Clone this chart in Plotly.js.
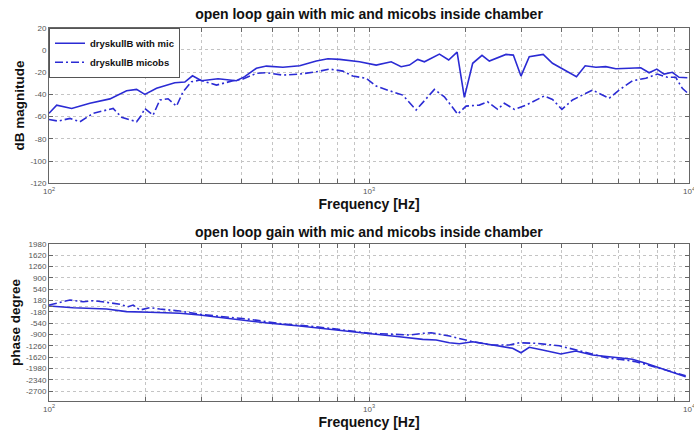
<!DOCTYPE html>
<html>
<head>
<meta charset="utf-8">
<script src="https://cdn.plot.ly/plotly-3.0.1.min.js"></script>
<style>
  html, body { margin: 0; padding: 0; background: #fff; }
  #chart { width: 694px; height: 434px; }
</style>
</head>
<body>
<div id="chart"></div>
<script>
// Open loop gain measurements (magnitude in dB, phase in degrees) vs frequency in Hz
const magMicFreq = [100,105.7,117.7,134.2,155,174.8,187.8,199.3,216.8,247.2,265.7,280.8,299.6,337.5,385.1,408.8,444.6,477.9,538.3,607.2,684.4,743.8,809.1,934,1053,1173,1260,1338,1420,1490,1660,1774,1885,1986,2109,2255,2377,2680,2825,2985,3168,3503,3745,4450,4738,5116,5495,5906,6500,7068,7505,7933,8356,8869,9308,9879];
const magMicDb = [-57,-49.6,-52.6,-48,-44,-36.7,-35.5,-40,-34.5,-29.5,-28.9,-23.2,-27.7,-25.9,-27.7,-24,-16.5,-14.5,-15.6,-14.2,-10,-7.9,-8.5,-10.6,-13.6,-10.6,-15.1,-13.6,-8.5,-10.6,-3.7,-9,-1.9,-42.7,-12,-4.8,-10,-4,-4.6,-23.5,-6.1,-4,-12,-24,-14.2,-15.6,-15,-16.9,-16.5,-16,-20.5,-17.2,-21.7,-20.1,-24.6,-25];

const magObsFreq = [100,106.9,116.3,124.9,137.5,158.7,168.6,187.8,194.6,199.3,211.5,222,235.6,250.3,262.4,278.7,295.9,333.7,375.8,403.9,444.6,477.9,538.3,607.2,684.4,753,828.4,890,980,1053,1159,1275,1404,1601,1720,1893,2011,2212,2348,2523,2648,2845,3094,3324,3529,3745,4006,4324,4647,4993,5628,6046,6654,7326,7966,8557,9089,9530,9879];
const magObsDb = [-62.5,-64,-61.6,-64.6,-57,-52.6,-60.6,-64.6,-58.6,-52.6,-58.6,-45,-43.9,-50.5,-37.6,-28.6,-27.1,-31.6,-27.7,-26.2,-21,-20.5,-22.6,-21.7,-19.6,-17.2,-19,-23.5,-25.5,-32.5,-36.7,-40.6,-54,-35.5,-42.1,-57.7,-50.5,-49.6,-46.6,-53.4,-48,-53.4,-49.6,-45,-41.4,-44.5,-53.4,-45,-40.6,-36.1,-43.5,-36.1,-27.7,-25.5,-21.7,-24.6,-24.6,-34.5,-38.5];

const phaseMicFreq = [100,119.1,151.4,174.8,206.6,256.3,295.9,341.7,394.4,455.4,489.3,607.2,770.9,980,1245,1472,1621,1783,1916,2109,2434,2810,2985,3168,3486,3978,4431,4993,5628,6654,7326,8459,9765];
const phaseMicDeg = [10,-45,-86,-170,-190,-222,-276,-350,-413,-489,-540,-626,-753,-858,-966,-1049,-1071,-1157,-1190,-1125,-1230,-1335,-1474,-1303,-1389,-1516,-1420,-1548,-1602,-1684,-1811,-2024,-2237];

const phaseObsFreq = [100,116.3,128,137.5,151.4,166.5,176.8,183.2,192.3,206.6,222,256.3,295.9,423.8,538.3,684.4,869.7,1004,1159,1338,1472,1564,1783,2011,2109,2434,2744,2949,3324,3930,4431,4993,5628,6346,6818,7326,8459,9765];
const phaseObsDeg = [41,200,146,178,127,64,-13,41,-118,-45,-86,-150,-254,-413,-562,-648,-775,-858,-880,-912,-858,-839,-944,-1071,-1125,-1230,-1230,-1157,-1176,-1252,-1389,-1525,-1652,-1706,-1760,-1843,-2024,-2205];

const seriesNames = ['dryskullB with mic', 'dryskullB micobs'];
const chartTitle = 'open loop gain with mic and micobs inside chamber';
const xTitle = 'Frequency [Hz]';
const magTicks = [20,0,-20,-40,-60,-80,-100,-120];
const phaseTicks = [1980,1620,1260,900,540,180,0,-180,-540,-900,-1260,-1620,-1980,-2340,-2700];

// log-axis grid: every integer multiple within each decade, labels only on decades
const freqTicks = [];
const freqTickText = [];
for (let d = 100; d <= 10000; d *= 10) {
  for (let m = 1; m <= 9; m++) {
    const v = d * m;
    if (v > 10000) break;
    freqTicks.push(v);
    freqTickText.push(m === 1 ? '10<sup>' + Math.round(Math.log10(d)) + '</sup>' : '');
  }
}

const lineColor = '#2b2bd4';
const dashDot = '8px,3px,2px,3px';
const font = 'Liberation Sans, Arial, Helvetica, sans-serif';

const traces = [
  { x: magMicFreq, y: magMicDb, name: seriesNames[0], type: 'scatter', mode: 'lines',
    line: { color: lineColor, width: 1.6 }, xaxis: 'x', yaxis: 'y' },
  { x: magObsFreq, y: magObsDb, name: seriesNames[1], type: 'scatter', mode: 'lines',
    line: { color: lineColor, width: 1.6, dash: dashDot }, xaxis: 'x', yaxis: 'y' },
  { x: phaseMicFreq, y: phaseMicDeg, name: seriesNames[0], type: 'scatter', mode: 'lines',
    line: { color: lineColor, width: 1.6 }, xaxis: 'x2', yaxis: 'y2', showlegend: false },
  { x: phaseObsFreq, y: phaseObsDeg, name: seriesNames[1], type: 'scatter', mode: 'lines',
    line: { color: lineColor, width: 1.6, dash: dashDot }, xaxis: 'x2', yaxis: 'y2', showlegend: false }
];

const tickFont = { family: font, size: 8, color: '#555' };
const titleFont = { family: font, size: 14, color: '#111', weight: 'bold' };
const yTitleFont = { family: font, size: 13.5, color: '#111', weight: 'bold' };

function xAxis(anchor) {
  return {
    type: 'log', range: [2, 4], anchor: anchor, domain: [0, 1],
    tickmode: 'array', tickvals: freqTicks, ticktext: freqTickText,
    ticks: 'inside', ticklen: 4, tickcolor: '#666', mirror: 'allticks',
    showline: true, linecolor: '#666', linewidth: 1,
    showgrid: true, gridcolor: '#c4c4c4', griddash: 'dot', gridwidth: 1,
    zeroline: false, tickfont: tickFont, automargin: false,
    ticklabeloverflow: 'allow',
    title: { text: xTitle, font: titleFont, standoff: 3 }
  };
}

function yAxis(anchor, domain, range, ticks, title) {
  return {
    anchor: anchor, domain: domain, range: range,
    tickmode: 'array', tickvals: ticks, ticktext: ticks.map(String),
    ticks: 'inside', ticklen: 4, tickcolor: '#666', mirror: 'allticks',
    showline: true, linecolor: '#666', linewidth: 1,
    showgrid: true, gridcolor: '#c4c4c4', griddash: 'dot', gridwidth: 1,
    zeroline: false, tickfont: tickFont, automargin: false,
    title: { text: title, font: yTitleFont, standoff: 2 }
  };
}

const layout = {
  width: 694, height: 434,
  margin: { l: 49, r: 5, t: 27, b: 33 },
  paper_bgcolor: '#fff', plot_bgcolor: '#fff',
  font: { family: font },
  showlegend: true,
  legend: {
    x: 0, y: 0.998, xanchor: 'left', yanchor: 'top', xref: 'paper', yref: 'paper',
    bgcolor: '#fff', bordercolor: '#555', borderwidth: 1,
    font: { family: font, size: 9.5, color: '#111', weight: 'bold' },
    tracegroupgap: 0, itemwidth: 30
  },
  title: {
    text: chartTitle, font: titleFont,
    xref: 'paper', x: 0.5, xanchor: 'center',
    yref: 'container', y: 1 - 14 / 434, yanchor: 'middle'
  },
  xaxis: xAxis('y'),
  yaxis: yAxis('x', [0.582, 0.998], [-120, 20], magTicks, 'dB magnitude'),
  xaxis2: xAxis('y2'),
  yaxis2: yAxis('x2', [0, 0.4198], [-3008, 1980], phaseTicks, 'phase degree'),
  annotations: [{
    text: chartTitle, font: titleFont, showarrow: false,
    xref: 'paper', yref: 'paper', x: 0.5, y: 0.452, xanchor: 'center', yanchor: 'middle'
  }]
};

Plotly.newPlot('chart', traces, layout, { staticPlot: true, displayModeBar: false });
</script>
</body>
</html>
